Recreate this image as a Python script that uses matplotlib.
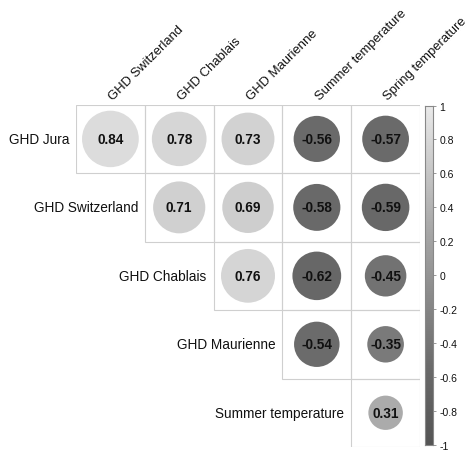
import numpy as np
import matplotlib
matplotlib.use('Agg')
import matplotlib.pyplot as plt
from matplotlib.patches import Circle, Rectangle
from matplotlib.colors import LinearSegmentedColormap

plt.rcParams['font.family'] = ['Liberation Sans', 'DejaVu Sans']

row_labels = ["GHD Jura", "GHD Switzerland", "GHD Chablais", "GHD Maurienne", "Summer temperature"]
col_labels = ["GHD Switzerland", "GHD Chablais", "GHD Maurienne", "Summer temperature", "Spring temperature"]

# upper triangle of the correlation matrix, None where there is no cell
corr = [
    [0.84, 0.78, 0.73, -0.56, -0.57],
    [None, 0.71, 0.69, -0.58, -0.59],
    [None, None, 0.76, -0.62, -0.45],
    [None, None, None, -0.54, -0.35],
    [None, None, None, None, 0.31],
]

cbar_ticks = [-1, -0.8, -0.6, -0.4, -0.2, 0, 0.2, 0.4, 0.6, 0.8, 1]

# grey ramp, a little steeper towards the light end
cmap = LinearSegmentedColormap.from_list("greys", [
    (0.0, "#555555"),
    (0.22, "#6a6a6a"),
    (0.5, "#949494"),
    (0.655, "#ababab"),
    (0.89, "#d6d6d6"),
    (1.0, "#ebebeb"),
])
norm = plt.Normalize(-1, 1)

W, H = 470, 456
fig = plt.figure(figsize=(W / 100, H / 100), dpi=100)

# grid area in pixels
gx0, gx1, gy0, gy1 = 76, 420, 105.7, 448
ax = fig.add_axes([gx0 / W, 1 - gy1 / H, (gx1 - gx0) / W, (gy1 - gy0) / H])
n = len(row_labels)
ax.set_xlim(0, n)
ax.set_ylim(n, 0)
ax.axis('off')

for i in range(n):
    for j in range(n):
        v = corr[i][j]
        if v is None:
            continue
        ax.add_patch(Rectangle((j, i), 1, 1, facecolor='none', edgecolor='#cfcfcf', linewidth=0.8, zorder=1))
        r = 0.45 * np.sqrt(abs(v))
        ax.add_patch(Circle((j + 0.5, i + 0.5), r, facecolor=cmap(norm(v)), edgecolor='none', zorder=2))
        ax.text(j + 0.5, i + 0.5, f"{v:.2f}", ha='center', va='center', fontsize=9.8,
                fontweight='bold', color='#111111', zorder=3)

# row labels sit just left of the first cell in each row
for i, lab in enumerate(row_labels):
    ax.text(i - 0.1, i + 0.5, lab, ha='right', va='center', fontsize=9.8, color='#111111', clip_on=False)

# column labels, rotated above the grid
for j, lab in enumerate(col_labels):
    ax.text(j + 0.57, -0.04, lab, ha='left', va='bottom', rotation=45, rotation_mode='anchor',
            fontsize=9.4, color='#111111', clip_on=False)

# colour bar
cx0, cx1, cy0, cy1 = 425, 433, 106.5, 446
cax = fig.add_axes([cx0 / W, 1 - cy1 / H, (cx1 - cx0) / W, (cy1 - cy0) / H])
grad = np.linspace(-1, 1, 256).reshape(-1, 1)
cax.imshow(grad, cmap=cmap, norm=norm, aspect='auto', origin='lower', extent=[0, 1, -1, 1])
cax.set_xlim(0, 1)
cax.set_ylim(-1, 1)
cax.set_xticks([])
cax.yaxis.tick_right()
cax.set_yticks(cbar_ticks)
cax.set_yticklabels([f"{t:g}" for t in cbar_ticks])
cax.tick_params(axis='y', length=2.5, width=0.6, color='#888888', labelsize=7.5, pad=2, labelcolor='#111111')
for s in cax.spines.values():
    s.set_color('#888888')
    s.set_linewidth(0.8)

fig.savefig("out.png", dpi=100)
